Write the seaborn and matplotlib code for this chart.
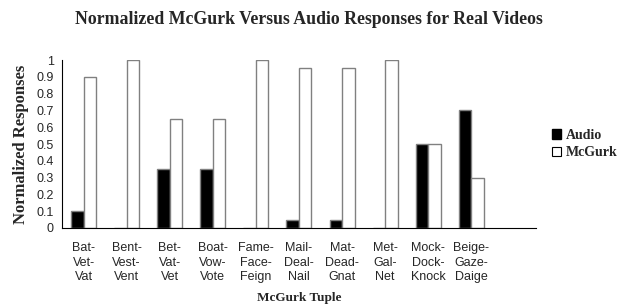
import matplotlib
matplotlib.use("Agg")
import matplotlib.pyplot as plt
import seaborn as sns
import pandas as pd
import numpy as np
from matplotlib.patches import Patch

categories = ["Bat-\nVet-\nVat", "Bent-\nVest-\nVent", "Bet-\nVat-\nVet", "Boat-\nVow-\nVote",
              "Fame-\nFace-\nFeign", "Mail-\nDeal-\nNail", "Mat-\nDead-\nGnat", "Met-\nGal-\nNet",
              "Mock-\nDock-\nKnock", "Beige-\nGaze-\nDaige", ""]
audio = [0.1, 0.0, 0.35, 0.35, 0.0, 0.05, 0.05, 0.0, 0.5, 0.7, np.nan]
mcgurk = [0.9, 1.0, 0.65, 0.65, 1.0, 0.95, 0.95, 1.0, 0.5, 0.3, np.nan]
yticks = [0, 0.1, 0.2, 0.3, 0.4, 0.5, 0.6, 0.7, 0.8, 0.9, 1]
ytick_labels = ["0", "0.1", "0.2", "0.3", "0.4", "0.5", "0.6", "0.7", "0.8", "0.9", "1"]

df = pd.DataFrame({
    "tuple": categories * 2,
    "value": audio + mcgurk,
    "type": ["Audio"] * len(categories) + ["McGurk"] * len(categories),
})

sns.set_style("white")
serif = ["Liberation Serif", "DejaVu Serif"]
sans = ["Liberation Sans", "DejaVu Sans"]

fig = plt.figure(figsize=(6.17, 3.05), dpi=100)
ax = fig.add_axes([0.1005, 0.2525, 0.768, 0.5505])

sns.barplot(data=df, x="tuple", y="value", hue="type", order=categories,
            palette={"Audio": "black", "McGurk": "white"}, width=0.58,
            edgecolor="#808080", linewidth=1.0, ax=ax, legend=False, errorbar=None)

ax.set_xlim(-0.5, len(categories) - 0.5)
ax.set_ylim(0, 1)
ax.set_yticks(yticks)
ax.set_yticklabels(ytick_labels, family=sans, fontsize=9)
ax.set_xticks(range(len(categories)))
ax.set_xticklabels(categories, family=sans, fontsize=9, linespacing=1.3)
ax.set_xticks(np.arange(-0.5, len(categories), 1), minor=True)
ax.tick_params(axis="x", which="major", length=0, pad=10)
ax.tick_params(axis="x", which="minor", length=5, width=0.8, color="black", direction="out")
ax.tick_params(axis="y", which="major", length=4, width=0.8, color="black", direction="out", pad=2)

for s in ["top", "right"]:
    ax.spines[s].set_visible(False)
for s in ["left", "bottom"]:
    ax.spines[s].set_color("black")
    ax.spines[s].set_linewidth(0.8)

ax.set_xlabel("McGurk Tuple", family=serif, fontweight="bold", fontsize=9.5, labelpad=6)
ax.set_ylabel("Normalized Responses", family=serif, fontweight="bold", fontsize=12, labelpad=5)
fig.suptitle("Normalized McGurk Versus Audio Responses for Real Videos", family=serif,
             fontweight="bold", fontsize=12.8, x=0.5, y=0.965)

handles = [Patch(facecolor="black", edgecolor="black", label="Audio"),
           Patch(facecolor="white", edgecolor="black", linewidth=0.8, label="McGurk")]
fig.legend(handles=handles, loc="center left", bbox_to_anchor=(0.894, 0.528), frameon=False,
           prop={"family": serif, "weight": "bold", "size": 10}, borderpad=0, borderaxespad=0,
           handlelength=0.7, handleheight=0.7, handletextpad=0.3, labelspacing=0.35)

fig.savefig("out.png", dpi=100, facecolor="white")
